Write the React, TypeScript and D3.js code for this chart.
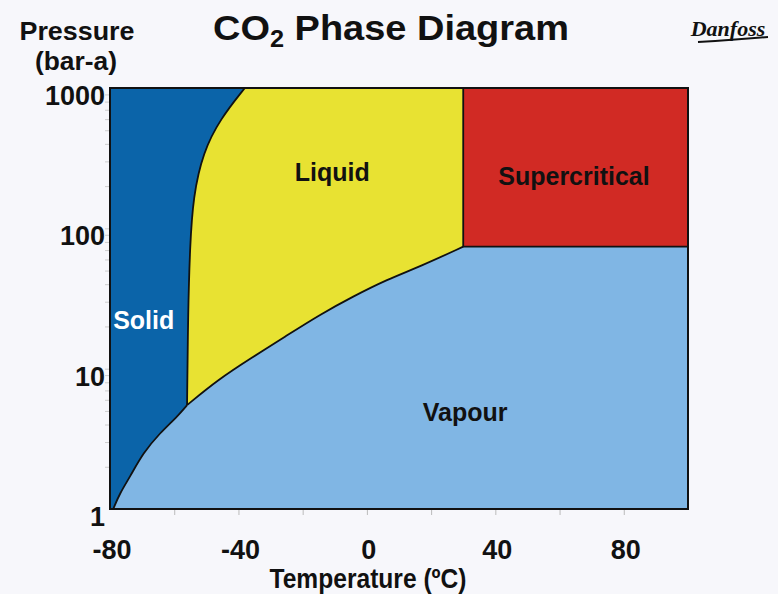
import React, { useEffect, useRef } from "react";
import * as d3 from "d3";

// boundary curves (temperature ºC, pressure bar-a)
const subT = [-79, -76.9, -73.8, -69.7, -64.4, -59.1, -56];
const subP = [1, 1.3, 1.69, 2.51, 3.49, 4.54, 5.5];
const vapT = [-56, -46.4, -35.8, -25.5, -14.6, -4.3, 6.3, 16.6, 30];
const vapP = [5.5, 8.35, 12, 16.9, 24.3, 32.7, 43.2, 53.5, 74];
const meltT = [-56, -55.7, -55.1, -54.1, -51, -45.7, -38];
const meltP = [5.5, 25, 74, 169, 349, 601, 1000];
const critT = 30;
const critP = 74;

const xTickLabels = [-80, -40, 0, 40, 80];
const xMinorTicks = [-60, -40, -20, 0, 20, 40, 60, 80];
const yTickLabels = [1, 10, 100, 1000];
const yMinorTicks = [2, 3, 4, 5, 6, 7, 8, 9, 10, 20, 30, 40, 50, 60, 70, 80, 90, 100, 200, 300, 400, 500, 600, 700, 800, 900];

const phaseLabels = [
  { name: "Solid", t: -69.5, p: 22.4, color: "#ffffff" },
  { name: "Liquid", t: -10.8, p: 251, color: "#111111" },
  { name: "Supercritical", t: 64.5, p: 235, color: "#111111" },
  { name: "Vapour", t: 30.6, p: 4.93, color: "#111111" },
];

const W = 778;
const H = 594;

const App = () => {
  const ref = useRef<SVGSVGElement>(null);

  useEffect(() => {
    const svg = d3.select(ref.current);
    svg.selectAll("*").remove();

    const x = d3.scaleLinear().domain([-80, 100]).range([110, 688]);
    const y = d3.scaleLog().domain([1, 1000]).range([509, 88]);

    const zip = (ts: number[], ps: number[]) => ts.map((t, i) => [t, ps[i]] as [number, number]);
    const sub = zip(subT, subP);
    const vap = zip(vapT, vapP);
    const melt = zip(meltT, meltP);

    // basis curve smooths the hand-read points and still hits both ends
    const line = d3.line<[number, number]>()
      .x((d) => x(d[0]))
      .y((d) => y(d[1]))
      .curve(d3.curveBasis);
    const pt = (t: number, p: number) => `L${x(t)},${y(p)}`;
    const cont = (s: string) => s.replace(/^M/, "L");

    svg.append("rect").attr("width", W).attr("height", H).attr("fill", "#f7f7fb");

    const plot = svg.append("g");
    // solid fills everything first
    plot.append("rect")
      .attr("x", x(-80)).attr("y", y(1000))
      .attr("width", x(100) - x(-80)).attr("height", y(1) - y(1000))
      .attr("fill", "#0b64a9");

    // vapour
    plot.append("path")
      .attr("d", line(sub)! + cont(line(vap)!) + pt(100, critP) + pt(100, 1) + pt(subT[0], 1) + "Z")
      .attr("fill", "#80b6e4");

    // liquid
    plot.append("path")
      .attr("d", line(vap)! + pt(critT, 1000) + cont(line(melt.slice().reverse())!) + "Z")
      .attr("fill", "#e8e232");

    // supercritical
    plot.append("rect")
      .attr("x", x(critT)).attr("y", y(1000))
      .attr("width", x(100) - x(critT)).attr("height", y(critP) - y(1000))
      .attr("fill", "#d12a24");

    const stroke = (d: string) =>
      plot.append("path").attr("d", d).attr("fill", "none")
        .attr("stroke", "#111").attr("stroke-width", 1.8).attr("stroke-linejoin", "round");
    stroke(line(sub)!);
    stroke(line(vap)!);
    stroke(line(melt)!);
    stroke(`M${x(critT)},${y(1000)}` + pt(critT, critP) + pt(100, critP));

    plot.append("rect")
      .attr("x", x(-80)).attr("y", y(1000))
      .attr("width", x(100) - x(-80)).attr("height", y(1) - y(1000))
      .attr("fill", "none").attr("stroke", "#111").attr("stroke-width", 2);

    // axes: small grey ticks
    const axX = svg.append("g")
      .attr("transform", `translate(0,${y(1) + 1})`)
      .call(d3.axisBottom(x).tickValues(xMinorTicks).tickSize(5).tickFormat(() => ""));
    axX.select(".domain").remove();
    axX.selectAll("line").attr("stroke", "#bbb");

    const axY = svg.append("g")
      .attr("transform", `translate(${x(-80) - 1},0)`)
      .call(d3.axisLeft(y).tickValues(yMinorTicks).tickSize(4).tickFormat(() => ""));
    axY.select(".domain").remove();
    axY.selectAll("line").attr("stroke", "#ccc");

    const font = "'Liberation Sans', Arial, sans-serif";

    svg.append("g").selectAll("text").data(xTickLabels).enter().append("text")
      .attr("x", (d) => x(d) + 2)
      .attr("y", 559)
      .attr("text-anchor", "middle")
      .attr("font-family", font).attr("font-weight", "bold").attr("font-size", 27)
      .attr("fill", "#111")
      .text((d) => d);

    svg.append("g").selectAll("text").data(yTickLabels).enter().append("text")
      .attr("x", 105)
      .attr("y", (d) => y(d) + 17)
      .attr("text-anchor", "end")
      .attr("font-family", font).attr("font-weight", "bold").attr("font-size", 27)
      .attr("fill", "#111")
      .text((d) => d);

    svg.append("text")
      .attr("x", 368).attr("y", 588)
      .attr("text-anchor", "middle")
      .attr("font-family", font).attr("font-weight", "bold").attr("font-size", 27)
      .attr("textLength", 197).attr("lengthAdjust", "spacingAndGlyphs")
      .attr("fill", "#111")
      .text("Temperature (ºC)");

    svg.append("text")
      .attr("x", 77).attr("y", 40)
      .attr("text-anchor", "middle")
      .attr("font-family", font).attr("font-weight", "bold").attr("font-size", 25)
      .attr("textLength", 115).attr("lengthAdjust", "spacingAndGlyphs")
      .attr("fill", "#111")
      .text("Pressure");
    svg.append("text")
      .attr("x", 76).attr("y", 70)
      .attr("text-anchor", "middle")
      .attr("font-family", font).attr("font-weight", "bold").attr("font-size", 25)
      .attr("textLength", 82).attr("lengthAdjust", "spacingAndGlyphs")
      .attr("fill", "#111")
      .text("(bar-a)");

    // title with subscript 2, squeezed to the reference width
    const title = svg.append("text")
      .attr("x", 0).attr("y", 40)
      .attr("font-family", font).attr("font-weight", "bold").attr("font-size", 36)
      .attr("fill", "#111");
    title.append("tspan").text("CO");
    title.append("tspan").attr("font-size", 24).attr("dy", 7).text("2");
    title.append("tspan").attr("dy", -7).text(" Phase Diagram");
    const tw = (title.node() as SVGTextElement).getBBox().width || 356;
    title.attr("transform", `translate(213,0) scale(${356 / tw},1)`);

    // logo stand-in
    svg.append("text")
      .attr("x", 728).attr("y", 36)
      .attr("text-anchor", "middle")
      .attr("font-family", "'Liberation Serif', serif").attr("font-style", "italic").attr("font-weight", "bold")
      .attr("font-size", 22)
      .attr("fill", "#111")
      .text("Danfoss");
    svg.append("path")
      .attr("d", "M698,42 Q735,40 768,37")
      .attr("fill", "none").attr("stroke", "#111").attr("stroke-width", 2);

    svg.append("g").selectAll("text").data(phaseLabels).enter().append("text")
      .attr("x", (d) => x(d.t))
      .attr("y", (d) => y(d.p) + 9)
      .attr("text-anchor", "middle")
      .attr("font-family", font).attr("font-weight", "bold").attr("font-size", 25)
      .attr("fill", (d) => d.color)
      .text((d) => d.name);
  }, []);

  return (
    <div style={{ position: "fixed", left: 0, top: 0, width: W, height: H }}>
      <svg ref={ref} width={W} height={H} />
    </div>
  );
};

export default App;
